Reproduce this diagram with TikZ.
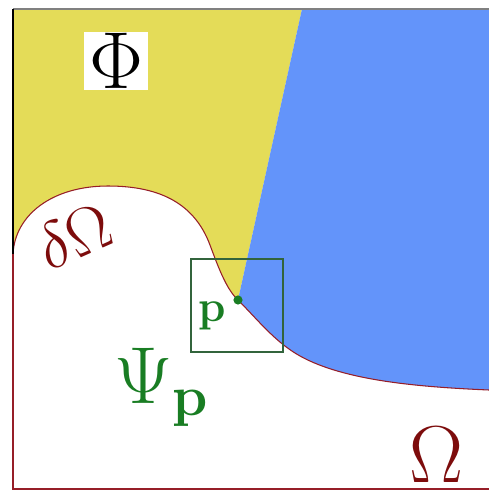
\RequirePackage{fix-cm}
\documentclass[tikz,border=0pt]{standalone}
\usepackage{amsmath,amssymb}

\definecolor{phiyellow}{RGB}{228,220,88}
\definecolor{domblue}{RGB}{99,148,250}
\definecolor{bdred}{RGB}{150,30,40}
\definecolor{labred}{RGB}{125,12,12}
\definecolor{pgreen}{RGB}{25,125,35}
\definecolor{boxgreen}{RGB}{50,100,60}

\begin{document}
\begin{tikzpicture}[x=0.02cm,y=-0.02cm,
  biglab/.style={inner sep=0, font=\fontsize{46}{50}\selectfont}]

% Page
\path[use as bounding box, fill=white] (0,0) rectangle (489,491);

% Frame corners and points on the boundary
\coordinate (tl) at (13,9);
\coordinate (tr) at (489,9);
\coordinate (bl) at (13,489);
\coordinate (br) at (489,489);
\coordinate (ytop) at (302,9);
\coordinate (cl) at (13,254);
\coordinate (ctop) at (108,186);
\coordinate (cbend) at (210,245);
\coordinate (p) at (238,300);
\coordinate (cmid) at (300,356);
\coordinate (cr) at (489,390);

% Phi region
\fill[phiyellow] (tl) -- (ytop) -- (p)
  .. controls (226,289) and (217.5,265) .. (cbend)
  .. controls (195,205) and (162,186) .. (ctop)
  .. controls (52,186) and (15,215) .. (cl) -- cycle;

% Blue region
\fill[domblue] (ytop) -- (tr) -- (cr)
  .. controls (420,387) and (345,381) .. (cmid)
  .. controls (275,342) and (258,320) .. (p) -- cycle;

% Boundary delta Omega
\draw[bdred, line width=0.6pt] (cl)
  .. controls (15,215) and (52,186) .. (ctop)
  .. controls (162,186) and (195,205) .. (cbend)
  .. controls (217.5,265) and (226,289) .. (p)
  .. controls (258,320) and (275,342) .. (cmid)
  .. controls (345,381) and (420,387) .. (cr);

% Frame
\draw[gray, line width=0.8pt] (tl) -- (tr);
\draw[black, line width=0.7pt] (tl) -- (cl);
\draw[bdred, line width=0.7pt] (cl) -- (bl) -- (br);

% Box around p
\draw[boxgreen, line width=0.8pt] (191,259) rectangle (283,352);
\fill[pgreen] (p) circle (2.6pt);

% Labels
\node[biglab, fill=white, inner xsep=3pt, inner ysep=1pt] (phi) at (116,61) {$\Phi$};
\node[inner sep=0, text=labred, font=\fontsize{37}{40}\selectfont, rotate=24] (domegalab) at (74,236) {$\delta\Omega$};
\node[biglab, text=labred] (omegalab) at (436,455) {$\Omega$};
\node[inner sep=0, text=pgreen, font=\fontsize{25}{28}\selectfont\bfseries] (plab) at (212,316) {p};
\node[biglab, text=pgreen, anchor=base west] (psilab) at (114,403) {$\Psi_{\mathbf{p}}$};

\end{tikzpicture}
\end{document}
